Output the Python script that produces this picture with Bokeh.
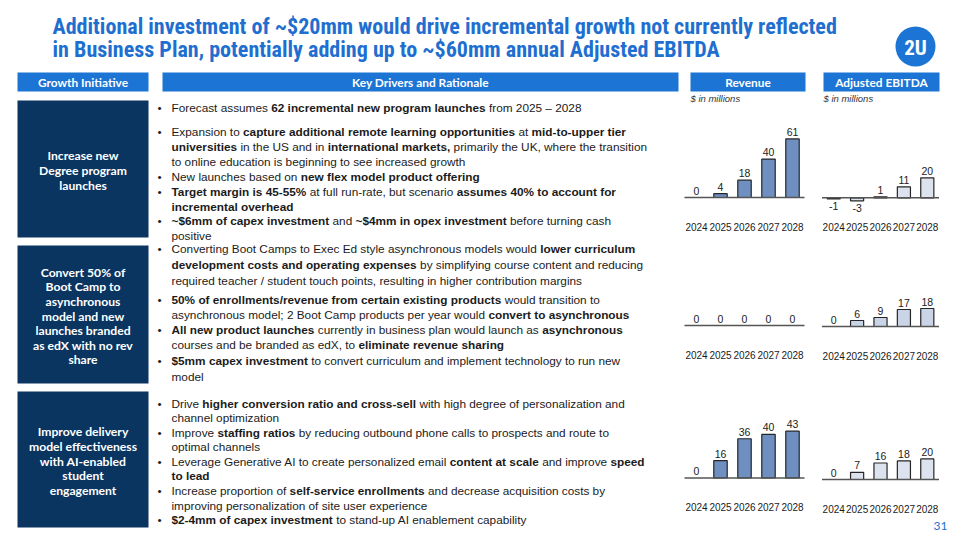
import glob
import os
from bokeh.plotting import figure
from bokeh.models import Range1d, ColumnDataSource
from bokeh.core.properties import value
from bokeh.embed import file_html
from bokeh.resources import INLINE

# ------------------------------------------------------------------ data
years = ["2024", "2025", "2026", "2027", "2028"]
rev_degree = [0, 4, 18, 40, 61]
ebitda_degree = [-1, -3, 1, 11, 20]
rev_bootcamp = [0, 0, 0, 0, 0]
ebitda_bootcamp = [0, 6, 9, 17, 18]
rev_ai = [0, 16, 36, 40, 43]
ebitda_ai = [0, 7, 16, 18, 20]

title_lines = [
    "Additional investment of ~$20mm would drive incremental growth not currently reflected",
    "in Business Plan, potentially adding up to ~$60mm annual Adjusted EBITDA",
]
header_labels = ["Growth Initiative", "Key Drivers and Rationale", "Revenue", "Adjusted EBITDA"]
units_label = "$ in millions"
page_number = "31"

initiatives = [
    ["Increase new", "Degree program", "launches"],
    ["Convert 50% of", "Boot Camp to", "asynchronous", "model and new", "launches branded",
     "as edX with no rev", "share"],
    ["Improve delivery", "model effectiveness", "with AI-enabled", "student", "engagement"],
]

# each bullet: list of lines, each line: list of (text, bold)
bullets = [
    [
        [[("Forecast assumes ", 0), ("62 incremental new program launches", 1), (" from 2025 \u2013 2028", 0)]],
        [[("Expansion to ", 0), ("capture additional remote learning opportunities", 1), (" at ", 0), ("mid-to-upper tier", 1)],
         [("universities", 1), (" in the US and in ", 0), ("international markets,", 1), (" primarily the UK, where the transition", 0)],
         [("to online education is beginning to see increased growth", 0)]],
        [[("New launches based on ", 0), ("new flex model product offering", 1)]],
        [[("Target margin is 45-55%", 1), (" at full run-rate, but scenario ", 0), ("assumes 40% to account for", 1)],
         [("incremental overhead", 1)]],
        [[("~$6mm of capex investment", 1), (" and ", 0), ("~$4mm in opex investment", 1), (" before turning cash", 0)],
         [("positive", 0)]],
    ],
    [
        [[("Converting Boot Camps to Exec Ed style asynchronous models would ", 0), ("lower curriculum", 1)],
         [("development costs and operating expenses", 1), (" by simplifying course content and reducing", 0)],
         [("required teacher / student touch points, resulting in higher contribution margins", 0)]],
        [[("50% of enrollments/revenue from certain existing products", 1), (" would transition to", 0)],
         [("asynchronous model; 2 Boot Camp products per year would ", 0), ("convert to asynchronous", 1)]],
        [[("All new product launches", 1), (" currently in business plan would launch as ", 0), ("asynchronous", 1)],
         [("courses and be branded as edX, to ", 0), ("eliminate revenue sharing", 1)]],
        [[("$5mm capex investment", 1), (" to convert curriculum and implement technology to run new", 0)],
         [("model", 0)]],
    ],
    [
        [[("Drive ", 0), ("higher conversion ratio and cross-sell", 1), (" with high degree of personalization and", 0)],
         [("channel optimization", 0)]],
        [[("Improve ", 0), ("staffing ratios", 1), (" by reducing outbound phone calls to prospects and route to", 0)],
         [("optimal channels", 0)]],
        [[("Leverage Generative AI to create personalized email ", 0), ("content at scale", 1), (" and improve ", 0), ("speed", 1)],
         [("to lead", 1)]],
        [[("Increase proportion of ", 0), ("self-service enrollments", 1), (" and decrease acquisition costs by", 0)],
         [("improving personalization of site user experience", 0)]],
        [[("$2-4mm of capex investment", 1), (" to stand-up AI enablement capability", 0)]],
    ],
]

# ------------------------------------------------------------------ layout / style
line_ys = [
    [107, 131, 146, 161, 176, 191, 206, 220, 235],
    [248, 264, 280, 299, 314, 329, 344, 360, 376],
    [403, 417, 432, 446, 461, 475, 490, 505, 519],
]
box_rows = [(100, 237), (245, 383), (391, 527)]

TITLE_BLUE = "#1F6FD0"
HEADER_BLUE = "#1C74D4"
NAVY = "#0A3561"
TEXT = "#1B1B1B"
REV_FILL = "#6E8FC0"
EB_FILL = "#DCE3EE"
EB_FILL2 = "#C9D4E6"

# ------------------------------------------------------------------ font metrics
FONT_FILES = {}
for d in ["/usr/share/fonts", "/usr/local/share/fonts",
          os.path.expanduser("~/.fonts"), os.path.expanduser("~/.local/share/fonts")]:
    for f in glob.glob(os.path.join(d, "**", "*.[ot]t[fc]"), recursive=True):
        FONT_FILES.setdefault(os.path.basename(f).lower(), f)

try:
    from PIL import ImageFont
except Exception:
    ImageFont = None

_cache = {}


def get_font(fname):
    if ImageFont is None:
        return None
    if fname not in _cache:
        path = FONT_FILES.get(fname.lower())
        try:
            _cache[fname] = ImageFont.truetype(path, 100) if path else None
        except Exception:
            _cache[fname] = None
    return _cache[fname]


def text_w(s, fname, size, bold=False):
    f = get_font(fname)
    if f is None:
        return len(s) * size * (0.56 if bold else 0.5)
    return f.getlength(s) * size / 100.0


if "liberationsansnarrow-bold.ttf" in FONT_FILES:
    TITLE_FAM, TITLE_FILE = "Liberation Sans Narrow", "LiberationSansNarrow-Bold.ttf"
elif "robotocondensed-bold.ttf" in FONT_FILES:
    TITLE_FAM, TITLE_FILE = "Roboto Condensed", "RobotoCondensed-Bold.ttf"
else:
    TITLE_FAM, TITLE_FILE = "Roboto", "Roboto-Bold.ttf"

BODY_FAM = "Liberation Sans"
BODY_R, BODY_B = "LiberationSans-Regular.ttf", "LiberationSans-Bold.ttf"
LATO_B = "Lato-Bold.ttf"

title_size = 20 * 785 / max(1.0, text_w(title_lines[0], TITLE_FILE, 20, True))
title_size = min(24, max(15, title_size))

# body size calibrated on the first line (reference width ~410px)
_w12 = sum(text_w(s, BODY_B if b else BODY_R, 12, b) for s, b in bullets[0][0][0])
body_size = min(13, max(11, 12 * 410 / max(1.0, _w12)))

box_size = 12 * 108 / max(1.0, text_w("model effectiveness", LATO_B, 12, True))
box_size = min(13, max(10.5, box_size))
head_size = 12 * 90 / max(1.0, text_w("Growth Initiative", LATO_B, 12, True))
head_size = min(13, max(10, head_size))

# ------------------------------------------------------------------ figure (data units == page pixels)
W, H = 952, 532
p = figure(width=W, height=H, x_range=Range1d(0, W), y_range=Range1d(H, 0),
           toolbar_location=None, output_backend="svg",
           x_axis_location=None, y_axis_location=None, min_border=0,
           outline_line_color=None, background_fill_color="white", border_fill_color="white")
p.grid.grid_line_color = None

# title
p.text(x=[52, 52], y=[26, 49], text=title_lines, text_font=value(TITLE_FAM),
       text_font_style="bold", text_font_size=f"{title_size:.2f}px", text_color=TITLE_BLUE,
       text_baseline="middle", text_align="left")

# logo
p.circle(x=[915], y=[46], radius=20, fill_color=HEADER_BLUE, line_color=None)
p.text(x=[915], y=[47], text=["2U"], text_font=value(TITLE_FAM), text_font_style="bold",
       text_font_size="21px", text_color="white", text_align="center", text_baseline="middle")

# header bars
hdr_l = [17, 162, 690, 823]
hdr_r = [148, 678, 805, 939]
p.quad(left=hdr_l, right=hdr_r, top=[72] * 4, bottom=[91] * 4, fill_color=HEADER_BLUE, line_color=None)
p.text(x=[(a + b) / 2 for a, b in zip(hdr_l, hdr_r)], y=[81.5] * 4, text=header_labels,
       text_font=value("Lato"), text_font_style="bold", text_font_size=f"{head_size:.2f}px",
       text_color="white", text_align="center", text_baseline="middle")
p.text(x=[690, 823], y=[98, 98], text=[units_label] * 2, text_font=value(BODY_FAM),
       text_font_style="italic", text_font_size="9.5px", text_color="#333333",
       text_baseline="middle", text_align="left")

# navy initiative boxes
p.quad(left=[17] * 3, right=[148] * 3, top=[t for t, b in box_rows], bottom=[b for t, b in box_rows],
       fill_color=NAVY, line_color=None)
bx, by, bt = [], [], []
for (t, b), lines in zip(box_rows, initiatives):
    lh = 14.6
    c = (t + b) / 2 + 1.5
    for i, ln in enumerate(lines):
        bx.append(82.5)
        by.append(c + (i - (len(lines) - 1) / 2) * lh)
        bt.append(ln)
p.text(x=bx, y=by, text=bt, text_font=value("Lato"), text_font_style="bold",
       text_font_size=f"{box_size:.2f}px", text_color="white", text_align="center", text_baseline="middle")

# bullet text (rich runs)
reg = dict(x=[], y=[], text=[])
bol = dict(x=[], y=[], text=[])
dots = dict(x=[], y=[], text=[])


def rich_line(x0, y, segs):
    x = x0
    for s, b in segs:
        fn = BODY_B if b else BODY_R
        lead = len(s) - len(s.lstrip(" "))
        xd = x + text_w(" " * lead, fn, body_size, b)
        if s.strip():
            tgt = bol if b else reg
            tgt["x"].append(xd)
            tgt["y"].append(y)
            tgt["text"].append(s.strip())
        x += text_w(s, fn, body_size, b)


for row, ys in zip(bullets, line_ys):
    k = 0
    for item in row:
        dots["x"].append(157)
        dots["y"].append(ys[k])
        dots["text"].append("\u2022")
        for ln in item:
            rich_line(171, ys[k], ln)
            k += 1

for src, style in ((reg, "normal"), (bol, "bold"), (dots, "normal")):
    p.text(x="x", y="y", text="text", source=ColumnDataSource(src), text_font=value(BODY_FAM),
           text_font_style=style, text_font_size=f"{body_size:.2f}px", text_color=TEXT,
           text_align="left", text_baseline="middle")


# ------------------------------------------------------------------ bar charts
def bar_chart(x0, x1, base_y, ppu, vals, fill):
    xy = p.subplot(x_source=Range1d(-0.5, 4.5), y_source=Range1d(0, 10),
                   x_target=Range1d(x0, x1), y_target=Range1d(base_y, base_y - 10 * ppu))
    idx = list(range(len(years)))
    bars = ColumnDataSource(dict(x=[i for i, v in zip(idx, vals) if v != 0],
                                 top=[v for v in vals if v != 0]))
    xy.vbar(x="x", top="top", bottom=0, width=0.56, source=bars, fill_color=fill,
            line_color="#262626", line_width=1.2)
    xy.segment(x0=[-0.5], y0=[0], x1=[4.5], y1=[0], line_color="#555555", line_width=1.5)
    pos = dict(x=[], y=[], text=[])
    neg = dict(x=[], y=[], text=[])
    for i, v in zip(idx, vals):
        if v >= 0:
            pos["x"].append(i); pos["y"].append(v + 3.0 / ppu); pos["text"].append(str(v))
        else:
            neg["x"].append(i); neg["y"].append(v - 3.0 / ppu); neg["text"].append(str(v))
    for src, bl in ((pos, "bottom"), (neg, "top")):
        xy.text(x="x", y="y", text="text", source=ColumnDataSource(src), text_font=value(BODY_FAM),
                text_font_size="10.5px", text_color=TEXT, text_align="center", text_baseline=bl)
    xy.text(x=idx, y=[-29.0 / ppu] * len(idx), text=years, text_font=value(BODY_FAM),
            text_font_size="10px", text_color=TEXT, text_align="center", text_baseline="middle")


bar_chart(684, 804, 197, 0.96, rev_degree, REV_FILL)
bar_chart(821.5, 938.5, 197.3, 1.0, ebitda_degree, EB_FILL)
bar_chart(684, 804, 325, 1.0, rev_bootcamp, REV_FILL)
bar_chart(821.5, 938.5, 326, 1.0, ebitda_bootcamp, EB_FILL2)
bar_chart(684, 804, 477.5, 1.09, rev_ai, REV_FILL)
bar_chart(821.5, 938.5, 479, 1.03, ebitda_ai, EB_FILL)

# page number
p.text(x=[947], y=[525], text=[page_number], text_font=value("Lato"), text_font_size="12px",
       text_color=TITLE_BLUE, text_align="right", text_baseline="middle")

open("out.html", "w").write(file_html(p, INLINE))
